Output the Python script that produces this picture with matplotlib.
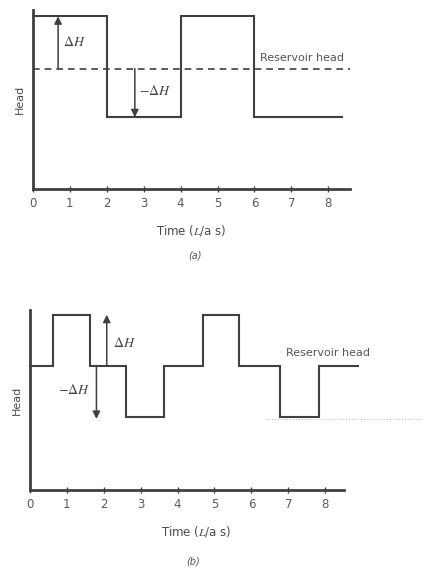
import numpy as np
import matplotlib
matplotlib.use("Agg")
import matplotlib.pyplot as plt

plt.rcParams["mathtext.fontset"] = "stix"

# panel (a): head steps over time (L/a s)
a_edges = [0, 2, 4, 6, 8.37]
a_head = [3.3, 1.37, 3.3, 1.37]
a_res = 2.3

# panel (b)
b_edges = [0, 0.63, 1.63, 2.6, 3.63, 4.68, 5.67, 6.77, 7.83, 8.88]
b_head = [2.36, 3.33, 2.36, 1.39, 2.36, 3.33, 2.36, 1.39, 2.36]
b_res = 2.36

ticks = [0, 1, 2, 3, 4, 5, 6, 7, 8]
col = "#404040"

fig = plt.figure(figsize=(4.28, 5.71), dpi=100)
W, H = 428, 571
ppu = 36.9  # px per time unit

def make_ax(x0, ytop, ybot, xmax):
    ax = fig.add_axes([x0 / W, 1 - ybot / H, xmax * ppu / W, (ybot - ytop) / H])
    ax.set_xlim(0, xmax)
    ax.set_ylim(0, 3.42)
    for s in ["top", "right"]:
        ax.spines[s].set_visible(False)
    for s in ["left", "bottom"]:
        ax.spines[s].set_linewidth(2)
        ax.spines[s].set_color(col)
    ax.set_yticks([])
    ax.set_xticks(ticks)
    ax.tick_params(axis="x", direction="inout", length=4, width=1, color=col,
                   labelsize=8.5, labelcolor="#5a5a5a", pad=4)
    ax.set_xlabel("Time ($L$/a s)", fontsize=8.5, color="#4a4a4a", labelpad=9)
    ax.set_ylabel("Head", fontsize=8, color="#4a4a4a", labelpad=6)
    return ax

def steps(ax, edges, vals):
    xs, ys = [], []
    for i, v in enumerate(vals):
        xs += [edges[i], edges[i + 1]]
        ys += [v, v]
    ax.plot(xs, ys, color=col, lw=1.5, solid_joinstyle="miter", clip_on=False)

arrow = dict(arrowstyle="-|>", color=col, lw=1.1, mutation_scale=11, shrinkA=0, shrinkB=0)

# (a)
ax1 = make_ax(33, 10, 189, 8.6)
ax1.spines["bottom"].set_bounds(0, 8.6)
steps(ax1, a_edges, a_head)
ax1.plot([0, 8.6], [a_res, a_res], color=col, lw=1.2, ls=(0, (4, 3)))
ax1.annotate("", xy=(0.68, a_head[0]), xytext=(0.68, a_res), arrowprops=arrow)
ax1.annotate("", xy=(2.76, a_head[1]), xytext=(2.76, a_res), arrowprops=arrow)
ax1.text(0.8, 2.8, r"$\Delta H$", fontsize=10, color="#444444", va="center")
ax1.text(2.88, 1.88, r"$-\Delta H$", fontsize=10, color="#444444", va="center")
ax1.text(6.15, 2.5, "Reservoir head", fontsize=8, color="#555555", va="center")
fig.text(195 / W, 1 - 258 / H, "(a)", fontsize=7, style="italic", color="#555555", ha="center")

# (b)
ax2 = make_ax(30, 310, 490, 9.0)
ax2.spines["bottom"].set_bounds(0, 8.5)
steps(ax2, b_edges, b_head)
ax2.plot([6.4, 10.6], [b_head[7] - 0.05, b_head[7] - 0.05], color="#bbbbbb",
         lw=0.8, ls=":", clip_on=False)
ax2.annotate("", xy=(2.08, b_head[1]), xytext=(2.08, b_res), arrowprops=arrow)
ax2.annotate("", xy=(1.8, 1.35), xytext=(1.8, b_res), arrowprops=arrow)
ax2.text(2.25, 2.8, r"$\Delta H$", fontsize=10, color="#444444", va="center")
ax2.text(0.75, 1.9, r"$-\Delta H$", fontsize=10, color="#444444", va="center")
ax2.text(6.95, 2.6, "Reservoir head", fontsize=8, color="#555555", va="center")
fig.text(193 / W, 1 - 565 / H, "(b)", fontsize=7, style="italic", color="#555555", ha="center")

fig.savefig("out.png", dpi=100)
